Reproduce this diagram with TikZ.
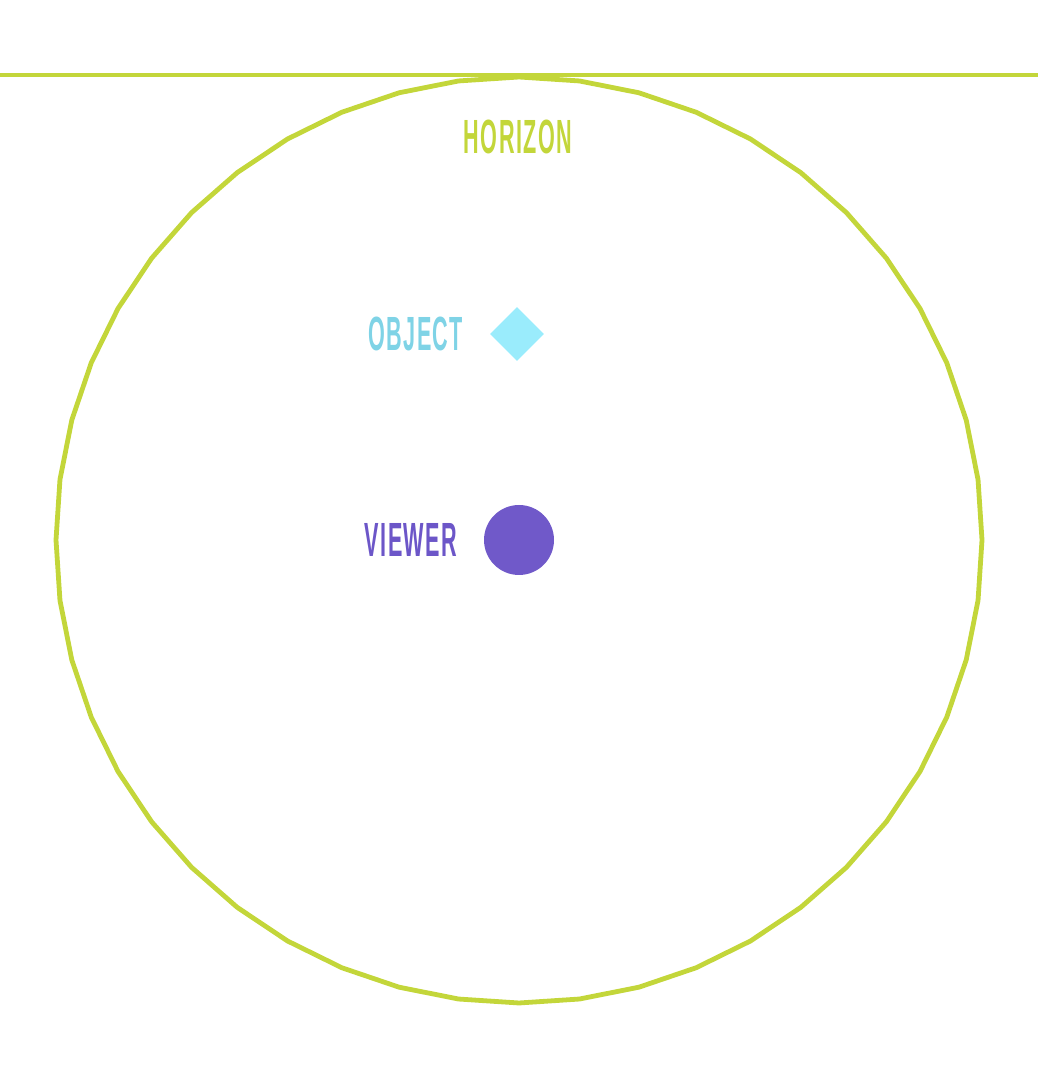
\documentclass[tikz,border=0pt]{standalone}
\usepackage{fontspec}
\usetikzlibrary{positioning,shapes.geometric}
\newfontfamily\condfont[FakeStretch=0.45, LetterSpace=3]{Liberation Sans}
\definecolor{horizoncol}{HTML}{C3D63A}
\definecolor{objectcol}{HTML}{7FD3E6}
\definecolor{objectfill}{HTML}{9AECFC}
\definecolor{viewercol}{HTML}{6C56C8}
\definecolor{viewerfill}{HTML}{7059C9}
\tikzset{
  labeltext/.style={inner sep=0pt, font=\condfont\bfseries\fontsize{24}{24}\selectfont},
}
\begin{document}
\begin{tikzpicture}[x=0.5pt, y=0.5pt, yscale=1, xscale=1]
\useasboundingbox (0, 0) rectangle (1038, 1080);
\draw [horizoncol, line width=2.4pt] (0, 1005) -- (1038, 1005);
\draw [horizoncol, line width=2.4pt, line join=round, shift={(519, 540)}] (90:463)
  \foreach \a in {97.5, 105, ..., 442.5} { -- (\a:463) } -- cycle;
%Text
\node (horizon) [labeltext, text=horizoncol] at (518, 943) {HORIZON};
\node (object) [diamond, aspect=1, fill=objectfill, inner sep=0pt, minimum width=27pt, minimum height=27pt] at (517, 746) {};
\node (objectlabel) [labeltext, text=objectcol, left=13pt of object] {OBJECT};
\node (viewer) [circle, fill=viewerfill, inner sep=0pt, minimum size=35pt] at (519, 540) {};
\node (viewerlabel) [labeltext, text=viewercol, left=13pt of viewer] {VIEWER};
\end{tikzpicture}
\end{document}
